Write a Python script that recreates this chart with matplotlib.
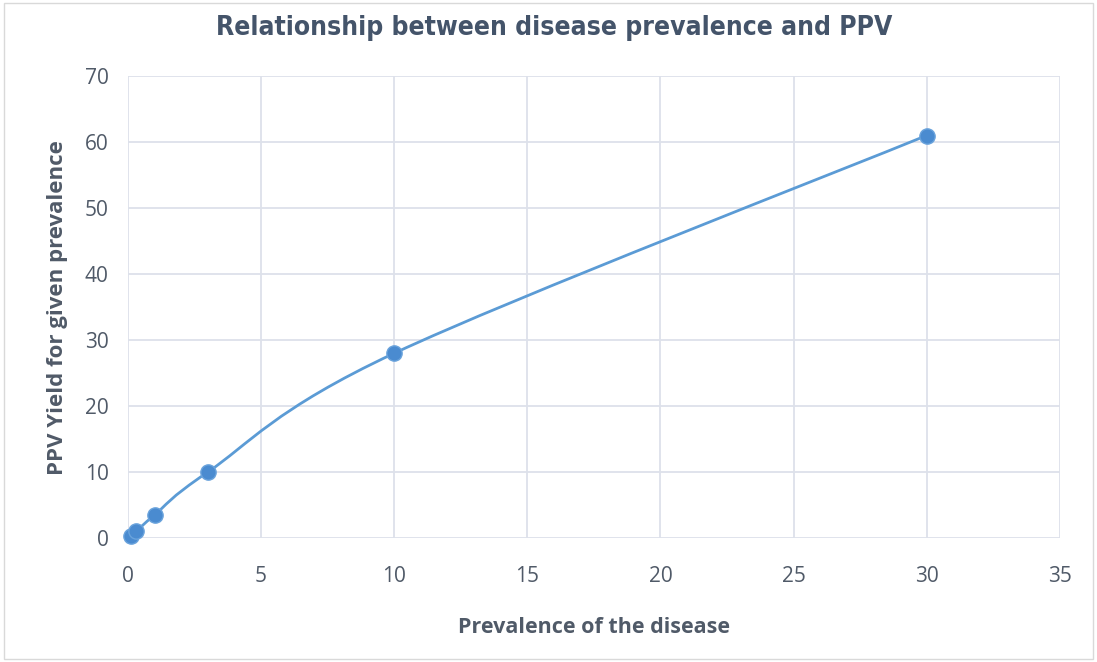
import matplotlib.pyplot as plt
from matplotlib.path import Path
from matplotlib.patches import PathPatch, Rectangle

# prevalence (%) vs PPV (%)
prevalence = [0.1, 0.3, 1, 3, 10, 30]
ppv = [0.35, 1.0, 3.5, 10, 28, 61]

line_color = '#5b9bd5'
text_color = '#505a68'


def smooth_path(xs, ys, k=1 / 6):
    # Excel-like smoothed line: Catmull-Rom segments as cubic Bezier curves
    pts = list(zip(xs, ys))
    verts = [pts[0]]
    codes = [Path.MOVETO]
    n = len(pts)
    for i in range(n - 1):
        p0 = pts[i - 1] if i > 0 else pts[i]
        p1 = pts[i]
        p2 = pts[i + 1]
        p3 = pts[i + 2] if i + 2 < n else pts[i + 1]
        c1 = (p1[0] + (p2[0] - p0[0]) * k, p1[1] + (p2[1] - p0[1]) * k)
        c2 = (p2[0] - (p3[0] - p1[0]) * k, p2[1] - (p3[1] - p1[1]) * k)
        verts += [c1, c2, p2]
        codes += [Path.CURVE4] * 3
    return Path(verts, codes)


fig = plt.figure(figsize=(10.97, 6.62), dpi=100)
ax = fig.add_axes([0.1167, 0.1873, 0.8493, 0.6977])

ax.add_patch(PathPatch(smooth_path(prevalence, ppv), facecolor='none',
                       edgecolor=line_color, lw=2, zorder=3, clip_on=False))
ax.plot(prevalence, ppv, linestyle='none', marker='o', ms=11,
        color='#4a8bd0', mec='#6aa3dc', mew=1, zorder=4, clip_on=False)

ax.set_xlim(0, 35)
ax.set_ylim(0, 70)
ax.set_xticks(range(0, 36, 5))
ax.set_yticks(range(0, 71, 10))
ax.grid(True, color='#dde1ea', lw=1.3)
ax.set_axisbelow(True)
for s in ax.spines.values():
    s.set_visible(False)
ax.tick_params(axis='both', length=0, labelsize=15, colors=text_color)
ax.tick_params(axis='x', pad=20)
ax.tick_params(axis='y', pad=14)
for lab in ax.get_xticklabels() + ax.get_yticklabels():
    lab.set_family('Open Sans')

ax.set_xlabel('Prevalence of the disease', fontsize=15.5, fontweight='bold',
              color=text_color, family='Open Sans', labelpad=22)
ax.set_ylabel('PPV Yield for given prevalence', fontsize=16, fontweight='bold',
              color=text_color, family='Open Sans', labelpad=12)
fig.text(0.505, 0.958, 'Relationship between disease prevalence and PPV',
         ha='center', va='center', fontsize=19, fontweight='bold',
         color='#44546a', family=['DejaVu Sans Condensed', 'DejaVu Sans'],
         fontstretch='condensed')

fig.patches.append(Rectangle((0.004, 0.004), 0.992, 0.992, transform=fig.transFigure,
                             fill=False, edgecolor='#d9d9d9', lw=1))

fig.savefig('out.png', dpi=100)
